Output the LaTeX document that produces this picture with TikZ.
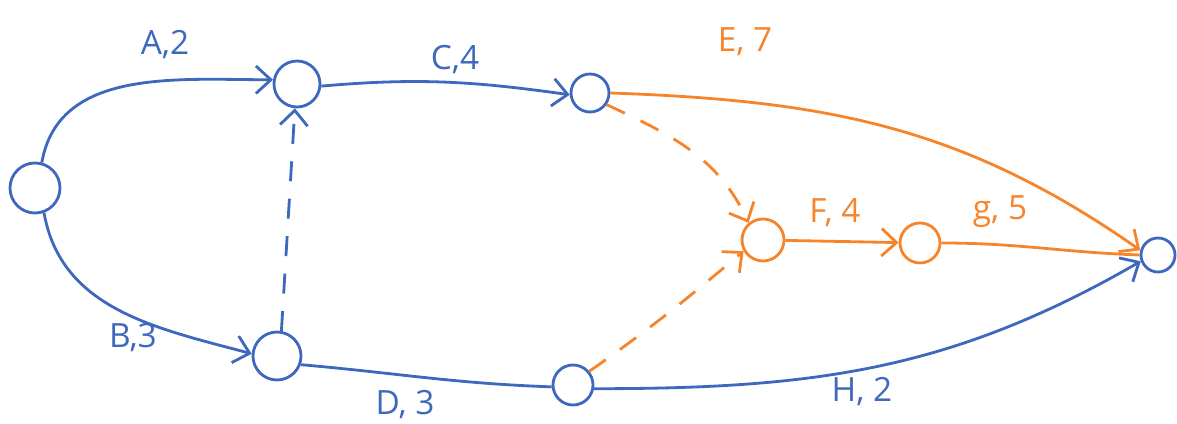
\documentclass[tikz,border=0pt]{standalone}
\usepackage{fontspec}
\setmainfont{Open Sans}
\usepackage{tikz}
\usetikzlibrary{arrows.meta}
\definecolor{pen}{RGB}{62,104,190}
\definecolor{hot}{RGB}{248,132,42}

\begin{document}
\begin{tikzpicture}[x=0.2mm,y=0.2mm,line width=1.6pt,
    ev/.style={circle,draw,inner sep=0pt,minimum size=#1},
    act/.style={-{Straight Barb[length=3mm,width=5.5mm]}},
    dummy/.style={act,dash pattern=on 4mm off 3.5mm},
    lbl/.style={font=\fontsize{19}{22}\selectfont}]
  \useasboundingbox (0,0) rectangle (1177,424);
  % events
  \node[ev=10mm,pen] (n1) at (35,236) {};
  \node[ev=9.2mm,pen] (n2) at (297,340) {};
  \node[ev=9.6mm,pen] (n3) at (277,68) {};
  \node[ev=7.6mm,pen] (n4) at (590,331) {};
  \node[ev=8mm,pen] (n5) at (573,39) {};
  \node[ev=8.4mm,hot] (n6) at (763,184) {};
  \node[ev=8mm,hot] (n7) at (920,181) {};
  \node[ev=6.8mm,pen] (n8) at (1158,169) {};
  % activities
  \draw[act,pen] (n1.75) to[out=80,in=180] (n2.170);
  \draw[act,pen] (n1.-70) to[out=-80,in=165] (n3.175);
  \draw[dummy,pen] (n3.80) -- (n2.-95);
  \draw[act,pen] (n2.-5) to[out=5,in=172] (n4.185);
  \draw[pen] (n3.-20) to[out=-5,in=178] (n5.185);
  \draw[act,pen] (n5.-10) to[out=0,in=-150] (n8.200);
  \draw[act,hot] (n4.0) to[out=-2,in=145] (n8.165);
  \draw[dummy,hot] (n4.-35) to[out=-25,in=115] (n6.130);
  \draw[dummy,hot] (n5.40) to[out=35,in=-140] (n6.210);
  \draw[act,hot] (n6) -- (n7);
  \draw[hot] (n7) to[out=0,in=178] (n8.180);
  % labels
  \node[lbl,pen] (la) at (165,379) {A,2};
  \node[lbl,pen] (lb) at (133,86) {B,3};
  \node[lbl,pen] (lc) at (455,364) {C,4};
  \node[lbl,pen] (ld) at (405,19) {D, 3};
  \node[lbl,hot] (le) at (745,382) {E, 7};
  \node[lbl,hot] (lf) at (835,211) {F, 4};
  \node[lbl,hot] (lg) at (1000,212) {g, 5};
  \node[lbl,pen] (lh) at (862,32) {H, 2};
\end{tikzpicture}
\end{document}
